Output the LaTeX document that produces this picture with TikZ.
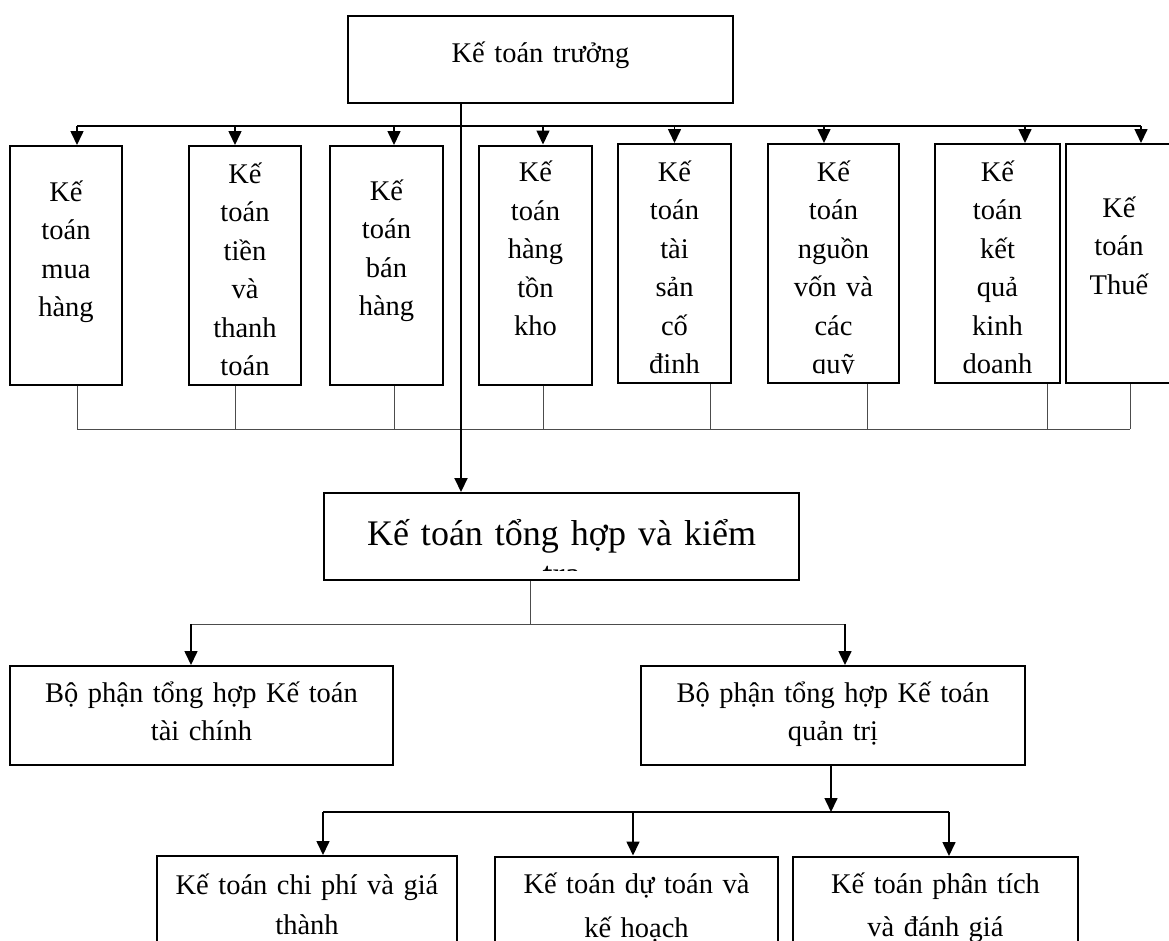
\documentclass[tikz,border=0pt]{standalone}
\usepackage{fontspec}
\setmainfont{Liberation Serif}
\usetikzlibrary{arrows.meta}
\tikzstyle{chef}=[draw, line width=2pt, inner sep=0pt]
\tikzstyle{poste}=[chef, minimum height=239pt]
\tikzstyle{lbl}=[inner sep=0pt, text width=400pt, align=center,
        font=\fontsize{28.5}{38.5}\selectfont]
\tikzstyle{fleche}=[-{Triangle[length=14pt,width=13pt]}, line width=1.6pt]
\tikzstyle{trait}=[line width=0.9pt, black!70]
\tikzstyle{bar}=[line width=1.2pt]
% texte coupe par le bord de la case
\newcommand{\boxtext}[4][]{%
  \begin{scope}
    \clip ([yshift=11pt]#2.south west) rectangle (#2.north east);
    \node[lbl, anchor=base, #1] (#2t) at ([yshift=-#3pt]#2.north) {#4};
  \end{scope}}

\begin{document}
\begin{tikzpicture}[x=1pt,y=-1pt]
\useasboundingbox (0,0) rectangle (1169,940);
\clip (0,0) rectangle (1169,940);
%cases
\node[chef, minimum width=385pt, minimum height=87pt] (ktt) at (540.5,59.5) {};
\node[poste, minimum width=112pt] (k1) at (66,265.5) {};
\node[poste, minimum width=112pt] (k2) at (245,265.5) {};
\node[poste, minimum width=113pt] (k3) at (386.5,265.5) {};
\node[poste, minimum width=113pt] (k4) at (535.5,265) {};
\node[poste, minimum width=113pt] (k5) at (674.5,263.5) {};
\node[poste, minimum width=131pt] (k6) at (833.5,263.5) {};
\node[poste, minimum width=125pt] (k7) at (997.5,263.5) {};
\node[poste, minimum width=106pt] (k8) at (1119,263.5) {};
\node[chef, minimum width=475pt, minimum height=87pt] (th) at (561.5,536.5) {};
\node[chef, minimum width=383pt, minimum height=99pt] (tc) at (201.5,715.5) {};
\node[chef, minimum width=384pt, minimum height=99pt] (qt) at (833,715.5) {};
\node[chef, minimum width=300pt, minimum height=104pt] (ca) at (307,908) {};
\node[chef, minimum width=283pt, minimum height=104pt] (cb) at (636.5,908.5) {};
\node[chef, minimum width=285pt, minimum height=104pt] (cc) at (935.5,909) {};
%textes
\boxtext{ktt}{47}{Kế toán trưởng}
\boxtext{k1}{56}{Kế\\toán\\mua\\hàng}
\boxtext{k2}{38}{Kế\\toán\\tiền\\và\\thanh\\toán}
\boxtext{k3}{55}{Kế\\toán\\bán\\hàng}
\boxtext{k4}{37}{Kế\\toán\\hàng\\tồn\\kho}
\boxtext{k5}{38}{Kế\\toán\\tài\\sản\\cố\\định}
\boxtext{k6}{38}{Kế\\toán\\nguồn\\vốn và\\các\\quỹ}
\boxtext{k7}{38}{Kế\\toán\\kết\\quả\\kinh\\doanh}
\boxtext{k8}{74}{Kế\\toán\\Thuế}
\boxtext[font=\fontsize{36}{41}\selectfont]{th}{53}{Kế toán tổng hợp và kiểm\\tra}
\boxtext{tc}{37}{Bộ phận tổng hợp Kế toán\\tài chính}
\boxtext{qt}{37}{Bộ phận tổng hợp Kế toán\\quản trị}
\boxtext{ca}{39}{Kế toán chi phí và giá\\[1.5pt]thành}
\boxtext{cb}{38}{Kế toán dự toán và\\[5.5pt]kế hoạch}
\boxtext{cc}{37}{Kế toán phân tích\\[5pt]và đánh giá}
%fleches
\coordinate (trunk) at ([xshift=-79.5pt]ktt.south);
\coordinate (bus) at (0,126);
\coordinate (lowbus) at (0,429);
\foreach \k/\d in {k1/11,k2/-10,k3/7.5,k4/7.5,k5/0,k6/-9.5,k7/27.5,k8/22}{
  \coordinate (d\k) at ([xshift=\d pt]\k.north);
  \draw[fleche] (d\k |- bus) -- (d\k);
}
\draw[bar] (dk1 |- bus) -- (dk8 |- bus);
\foreach \k/\d in {k1/11,k2/-10,k3/7.5,k4/7.5,k5/35.5,k6/33.5,k7/49.5,k8/11}{
  \coordinate (s\k) at ([xshift=\d pt]\k.south);
  \draw[trait] (s\k) -- (s\k |- lowbus);
}
\draw[trait] (sk1 |- lowbus) -- (sk8 |- lowbus);
\draw[fleche, line width=2pt] (trunk) -- (trunk |- th.north);

\coordinate (fork) at ([xshift=-31.5pt]th.south);
\coordinate (split) at (0,624);
\coordinate (tcin) at ([xshift=-10.5pt]tc.north);
\coordinate (qtin) at ([xshift=12pt]qt.north);
\draw[trait] (fork) -- (fork |- split);
\draw[trait] (tcin |- split) -- (qtin |- split);
\draw[fleche] (tcin |- split) -- (tcin);
\draw[fleche] (qtin |- split) -- (qtin);

\coordinate (qtout) at ([xshift=-2pt]qt.south);
\coordinate (split2) at (0,812);
\draw[fleche] (qtout) -- (qtout |- split2);
\foreach \k/\d in {ca/16,cb/-3.5,cc/13.5}{
  \coordinate (i\k) at ([xshift=\d pt]\k.north);
  \draw[fleche] (i\k |- split2) -- (i\k);
}
\draw[bar] (ica |- split2) -- (icc |- split2);
\end{tikzpicture}
\end{document}
